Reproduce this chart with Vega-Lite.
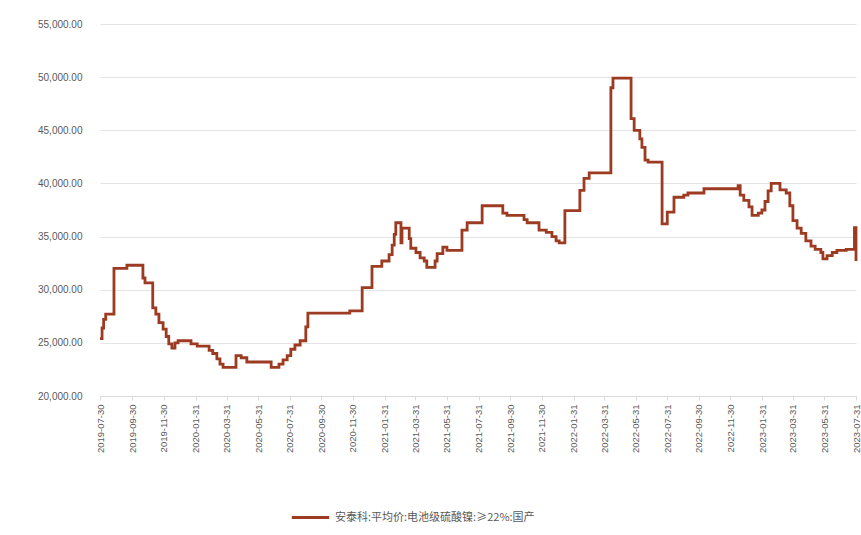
{
  "$schema": "https://vega.github.io/schema/vega-lite/v6.json",
  "autosize": {"type": "none"},
  "width": 756,
  "height": 372,
  "padding": {"left": 100, "top": 24, "right": 5, "bottom": 139},
  "background": "white",
  "config": {
    "view": {"stroke": null},
    "font": "Liberation Sans",
    "axis": {"labelColor": "#595959", "labelFont": "Liberation Sans"}
  },
  "data": {
    "values": [
      {"date": "2019-07-30", "price": 25400, "series": "安泰科:平均价:电池级硫酸镍:≥22%:国产"},
      {"date": "2019-08-03", "price": 26400, "series": "安泰科:平均价:电池级硫酸镍:≥22%:国产"},
      {"date": "2019-08-06", "price": 27200, "series": "安泰科:平均价:电池级硫酸镍:≥22%:国产"},
      {"date": "2019-08-10", "price": 27700, "series": "安泰科:平均价:电池级硫酸镍:≥22%:国产"},
      {"date": "2019-08-26", "price": 32000, "series": "安泰科:平均价:电池级硫酸镍:≥22%:国产"},
      {"date": "2019-09-20", "price": 32300, "series": "安泰科:平均价:电池级硫酸镍:≥22%:国产"},
      {"date": "2019-10-21", "price": 31100, "series": "安泰科:平均价:电池级硫酸镍:≥22%:国产"},
      {"date": "2019-10-25", "price": 30650, "series": "安泰科:平均价:电池级硫酸镍:≥22%:国产"},
      {"date": "2019-11-09", "price": 28300, "series": "安泰科:平均价:电池级硫酸镍:≥22%:国产"},
      {"date": "2019-11-15", "price": 27700, "series": "安泰科:平均价:电池级硫酸镍:≥22%:国产"},
      {"date": "2019-11-21", "price": 26900, "series": "安泰科:平均价:电池级硫酸镍:≥22%:国产"},
      {"date": "2019-11-29", "price": 26300, "series": "安泰科:平均价:电池级硫酸镍:≥22%:国产"},
      {"date": "2019-12-05", "price": 25600, "series": "安泰科:平均价:电池级硫酸镍:≥22%:国产"},
      {"date": "2019-12-10", "price": 24900, "series": "安泰科:平均价:电池级硫酸镍:≥22%:国产"},
      {"date": "2019-12-16", "price": 24500, "series": "安泰科:平均价:电池级硫酸镍:≥22%:国产"},
      {"date": "2019-12-22", "price": 25000, "series": "安泰科:平均价:电池级硫酸镍:≥22%:国产"},
      {"date": "2019-12-28", "price": 25200, "series": "安泰科:平均价:电池级硫酸镍:≥22%:国产"},
      {"date": "2020-01-22", "price": 24900, "series": "安泰科:平均价:电池级硫酸镍:≥22%:国产"},
      {"date": "2020-02-03", "price": 24700, "series": "安泰科:平均价:电池级硫酸镍:≥22%:国产"},
      {"date": "2020-02-26", "price": 24300, "series": "安泰科:平均价:电池级硫酸镍:≥22%:国产"},
      {"date": "2020-03-04", "price": 24000, "series": "安泰科:平均价:电池级硫酸镍:≥22%:国产"},
      {"date": "2020-03-12", "price": 23500, "series": "安泰科:平均价:电池级硫酸镍:≥22%:国产"},
      {"date": "2020-03-18", "price": 23000, "series": "安泰科:平均价:电池级硫酸镍:≥22%:国产"},
      {"date": "2020-03-24", "price": 22700, "series": "安泰科:平均价:电池级硫酸镍:≥22%:国产"},
      {"date": "2020-04-18", "price": 23800, "series": "安泰科:平均价:电池级硫酸镍:≥22%:国产"},
      {"date": "2020-04-28", "price": 23600, "series": "安泰科:平均价:电池级硫酸镍:≥22%:国产"},
      {"date": "2020-05-09", "price": 23200, "series": "安泰科:平均价:电池级硫酸镍:≥22%:国产"},
      {"date": "2020-06-25", "price": 22700, "series": "安泰科:平均价:电池级硫酸镍:≥22%:国产"},
      {"date": "2020-07-10", "price": 23000, "series": "安泰科:平均价:电池级硫酸镍:≥22%:国产"},
      {"date": "2020-07-18", "price": 23400, "series": "安泰科:平均价:电池级硫酸镍:≥22%:国产"},
      {"date": "2020-07-26", "price": 23800, "series": "安泰科:平均价:电池级硫酸镍:≥22%:国产"},
      {"date": "2020-08-02", "price": 24400, "series": "安泰科:平均价:电池级硫酸镍:≥22%:国产"},
      {"date": "2020-08-10", "price": 24800, "series": "安泰科:平均价:电池级硫酸镍:≥22%:国产"},
      {"date": "2020-08-20", "price": 25200, "series": "安泰科:平均价:电池级硫酸镍:≥22%:国产"},
      {"date": "2020-08-31", "price": 26500, "series": "安泰科:平均价:电池级硫酸镍:≥22%:国产"},
      {"date": "2020-09-04", "price": 27800, "series": "安泰科:平均价:电池级硫酸镍:≥22%:国产"},
      {"date": "2020-11-24", "price": 28000, "series": "安泰科:平均价:电池级硫酸镍:≥22%:国产"},
      {"date": "2020-12-18", "price": 30200, "series": "安泰科:平均价:电池级硫酸镍:≥22%:国产"},
      {"date": "2021-01-06", "price": 32200, "series": "安泰科:平均价:电池级硫酸镍:≥22%:国产"},
      {"date": "2021-01-25", "price": 32700, "series": "安泰科:平均价:电池级硫酸镍:≥22%:国产"},
      {"date": "2021-02-08", "price": 33300, "series": "安泰科:平均价:电池级硫酸镍:≥22%:国产"},
      {"date": "2021-02-14", "price": 34200, "series": "安泰科:平均价:电池级硫酸镍:≥22%:国产"},
      {"date": "2021-02-18", "price": 35200, "series": "安泰科:平均价:电池级硫酸镍:≥22%:国产"},
      {"date": "2021-02-21", "price": 36300, "series": "安泰科:平均价:电池级硫酸镍:≥22%:国产"},
      {"date": "2021-03-03", "price": 34400, "series": "安泰科:平均价:电池级硫酸镍:≥22%:国产"},
      {"date": "2021-03-05", "price": 35800, "series": "安泰科:平均价:电池级硫酸镍:≥22%:国产"},
      {"date": "2021-03-19", "price": 34800, "series": "安泰科:平均价:电池级硫酸镍:≥22%:国产"},
      {"date": "2021-03-22", "price": 33900, "series": "安泰科:平均价:电池级硫酸镍:≥22%:国产"},
      {"date": "2021-04-01", "price": 33500, "series": "安泰科:平均价:电池级硫酸镍:≥22%:国产"},
      {"date": "2021-04-09", "price": 33000, "series": "安泰科:平均价:电池级硫酸镍:≥22%:国产"},
      {"date": "2021-04-17", "price": 32700, "series": "安泰科:平均价:电池级硫酸镍:≥22%:国产"},
      {"date": "2021-04-22", "price": 32100, "series": "安泰科:平均价:电池级硫酸镍:≥22%:国产"},
      {"date": "2021-05-08", "price": 32700, "series": "安泰科:平均价:电池级硫酸镍:≥22%:国产"},
      {"date": "2021-05-12", "price": 33400, "series": "安泰科:平均价:电池级硫酸镍:≥22%:国产"},
      {"date": "2021-05-23", "price": 34000, "series": "安泰科:平均价:电池级硫酸镍:≥22%:国产"},
      {"date": "2021-05-31", "price": 33700, "series": "安泰科:平均价:电池级硫酸镍:≥22%:国产"},
      {"date": "2021-06-29", "price": 35600, "series": "安泰科:平均价:电池级硫酸镍:≥22%:国产"},
      {"date": "2021-07-09", "price": 36300, "series": "安泰科:平均价:电池级硫酸镍:≥22%:国产"},
      {"date": "2021-08-07", "price": 37900, "series": "安泰科:平均价:电池级硫酸镍:≥22%:国产"},
      {"date": "2021-09-16", "price": 37200, "series": "安泰科:平均价:电池级硫酸镍:≥22%:国产"},
      {"date": "2021-09-24", "price": 37000, "series": "安泰科:平均价:电池级硫酸镍:≥22%:国产"},
      {"date": "2021-10-27", "price": 36600, "series": "安泰科:平均价:电池级硫酸镍:≥22%:国产"},
      {"date": "2021-11-02", "price": 36300, "series": "安泰科:平均价:电池级硫酸镍:≥22%:国产"},
      {"date": "2021-11-25", "price": 35600, "series": "安泰科:平均价:电池级硫酸镍:≥22%:国产"},
      {"date": "2021-12-09", "price": 35400, "series": "安泰科:平均价:电池级硫酸镍:≥22%:国产"},
      {"date": "2021-12-20", "price": 35000, "series": "安泰科:平均价:电池级硫酸镍:≥22%:国产"},
      {"date": "2021-12-28", "price": 34600, "series": "安泰科:平均价:电池级硫酸镍:≥22%:国产"},
      {"date": "2022-01-03", "price": 34400, "series": "安泰科:平均价:电池级硫酸镍:≥22%:国产"},
      {"date": "2022-01-14", "price": 37450, "series": "安泰科:平均价:电池级硫酸镍:≥22%:国产"},
      {"date": "2022-02-12", "price": 39340, "series": "安泰科:平均价:电池级硫酸镍:≥22%:国产"},
      {"date": "2022-02-20", "price": 40470, "series": "安泰科:平均价:电池级硫酸镍:≥22%:国产"},
      {"date": "2022-03-02", "price": 41000, "series": "安泰科:平均价:电池级硫酸镍:≥22%:国产"},
      {"date": "2022-04-13", "price": 49000, "series": "安泰科:平均价:电池级硫酸镍:≥22%:国产"},
      {"date": "2022-04-17", "price": 49900, "series": "安泰科:平均价:电池级硫酸镍:≥22%:国产"},
      {"date": "2022-05-22", "price": 46100, "series": "安泰科:平均价:电池级硫酸镍:≥22%:国产"},
      {"date": "2022-05-28", "price": 45000, "series": "安泰科:平均价:电池级硫酸镍:≥22%:国产"},
      {"date": "2022-06-08", "price": 44200, "series": "安泰科:平均价:电池级硫酸镍:≥22%:国产"},
      {"date": "2022-06-12", "price": 43400, "series": "安泰科:平均价:电池级硫酸镍:≥22%:国产"},
      {"date": "2022-06-18", "price": 42200, "series": "安泰科:平均价:电池级硫酸镍:≥22%:国产"},
      {"date": "2022-06-24", "price": 42000, "series": "安泰科:平均价:电池级硫酸镍:≥22%:国产"},
      {"date": "2022-07-21", "price": 36200, "series": "安泰科:平均价:电池级硫酸镍:≥22%:国产"},
      {"date": "2022-07-31", "price": 37300, "series": "安泰科:平均价:电池级硫酸镍:≥22%:国产"},
      {"date": "2022-08-13", "price": 38700, "series": "安泰科:平均价:电池级硫酸镍:≥22%:国产"},
      {"date": "2022-09-01", "price": 38900, "series": "安泰科:平均价:电池级硫酸镍:≥22%:国产"},
      {"date": "2022-09-09", "price": 39100, "series": "安泰科:平均价:电池级硫酸镍:≥22%:国产"},
      {"date": "2022-10-10", "price": 39500, "series": "安泰科:平均价:电池级硫酸镍:≥22%:国产"},
      {"date": "2022-12-15", "price": 39800, "series": "安泰科:平均价:电池级硫酸镍:≥22%:国产"},
      {"date": "2022-12-19", "price": 38900, "series": "安泰科:平均价:电池级硫酸镍:≥22%:国产"},
      {"date": "2022-12-26", "price": 38400, "series": "安泰科:平均价:电池级硫酸镍:≥22%:国产"},
      {"date": "2023-01-05", "price": 37800, "series": "安泰科:平均价:电池级硫酸镍:≥22%:国产"},
      {"date": "2023-01-11", "price": 37000, "series": "安泰科:平均价:电池级硫酸镍:≥22%:国产"},
      {"date": "2023-01-23", "price": 37200, "series": "安泰科:平均价:电池级硫酸镍:≥22%:国产"},
      {"date": "2023-01-30", "price": 37500, "series": "安泰科:平均价:电池级硫酸镍:≥22%:国产"},
      {"date": "2023-02-05", "price": 38300, "series": "安泰科:平均价:电池级硫酸镍:≥22%:国产"},
      {"date": "2023-02-11", "price": 39300, "series": "安泰科:平均价:电池级硫酸镍:≥22%:国产"},
      {"date": "2023-02-17", "price": 40000, "series": "安泰科:平均价:电池级硫酸镍:≥22%:国产"},
      {"date": "2023-03-06", "price": 39400, "series": "安泰科:平均价:电池级硫酸镍:≥22%:国产"},
      {"date": "2023-03-18", "price": 39100, "series": "安泰科:平均价:电池级硫酸镍:≥22%:国产"},
      {"date": "2023-03-25", "price": 37900, "series": "安泰科:平均价:电池级硫酸镍:≥22%:国产"},
      {"date": "2023-03-31", "price": 36500, "series": "安泰科:平均价:电池级硫酸镍:≥22%:国产"},
      {"date": "2023-04-08", "price": 35800, "series": "安泰科:平均价:电池级硫酸镍:≥22%:国产"},
      {"date": "2023-04-16", "price": 35300, "series": "安泰科:平均价:电池级硫酸镍:≥22%:国产"},
      {"date": "2023-04-25", "price": 34600, "series": "安泰科:平均价:电池级硫酸镍:≥22%:国产"},
      {"date": "2023-05-05", "price": 34100, "series": "安泰科:平均价:电池级硫酸镍:≥22%:国产"},
      {"date": "2023-05-13", "price": 33800, "series": "安泰科:平均价:电池级硫酸镍:≥22%:国产"},
      {"date": "2023-05-24", "price": 33500, "series": "安泰科:平均价:电池级硫酸镍:≥22%:国产"},
      {"date": "2023-05-28", "price": 32900, "series": "安泰科:平均价:电池级硫酸镍:≥22%:国产"},
      {"date": "2023-06-05", "price": 33200, "series": "安泰科:平均价:电池级硫酸镍:≥22%:国产"},
      {"date": "2023-06-15", "price": 33500, "series": "安泰科:平均价:电池级硫酸镍:≥22%:国产"},
      {"date": "2023-06-24", "price": 33700, "series": "安泰科:平均价:电池级硫酸镍:≥22%:国产"},
      {"date": "2023-07-12", "price": 33800, "series": "安泰科:平均价:电池级硫酸镍:≥22%:国产"},
      {"date": "2023-07-28", "price": 35850, "series": "安泰科:平均价:电池级硫酸镍:≥22%:国产"},
      {"date": "2023-07-31", "price": 32700, "series": "安泰科:平均价:电池级硫酸镍:≥22%:国产"}
    ]
  },
  "mark": {"type": "line", "interpolate": "step-after", "strokeWidth": 2.8, "strokeJoin": "miter"},
  "encoding": {
    "x": {
      "field": "date",
      "type": "temporal",
      "scale": {"type": "utc", "domain": [{"year": 2019, "month": 7, "date": 30, "utc": true}, {"year": 2023, "month": 7, "date": 31, "utc": true}]},
      "axis": {
        "title": null,
        "values": [
          {"year": 2019, "month": 7, "date": 30, "utc": true},
          {"year": 2019, "month": 9, "date": 30, "utc": true},
          {"year": 2019, "month": 11, "date": 30, "utc": true},
          {"year": 2020, "month": 1, "date": 31, "utc": true},
          {"year": 2020, "month": 3, "date": 31, "utc": true},
          {"year": 2020, "month": 5, "date": 31, "utc": true},
          {"year": 2020, "month": 7, "date": 31, "utc": true},
          {"year": 2020, "month": 9, "date": 30, "utc": true},
          {"year": 2020, "month": 11, "date": 30, "utc": true},
          {"year": 2021, "month": 1, "date": 31, "utc": true},
          {"year": 2021, "month": 3, "date": 31, "utc": true},
          {"year": 2021, "month": 5, "date": 31, "utc": true},
          {"year": 2021, "month": 7, "date": 31, "utc": true},
          {"year": 2021, "month": 9, "date": 30, "utc": true},
          {"year": 2021, "month": 11, "date": 30, "utc": true},
          {"year": 2022, "month": 1, "date": 31, "utc": true},
          {"year": 2022, "month": 3, "date": 31, "utc": true},
          {"year": 2022, "month": 5, "date": 31, "utc": true},
          {"year": 2022, "month": 7, "date": 31, "utc": true},
          {"year": 2022, "month": 9, "date": 30, "utc": true},
          {"year": 2022, "month": 11, "date": 30, "utc": true},
          {"year": 2023, "month": 1, "date": 31, "utc": true},
          {"year": 2023, "month": 3, "date": 31, "utc": true},
          {"year": 2023, "month": 5, "date": 31, "utc": true},
          {"year": 2023, "month": 7, "date": 31, "utc": true}
        ],
        "format": "%Y-%m-%d",
        "labelAngle": -90,
        "labelFontSize": 9.5,
        "labelPadding": 4,
        "labelOverlap": false,
        "labelBound": false,
        "labelFlush": false,
        "grid": false,
        "domainColor": "#d9d9d9",
        "domainWidth": 1,
        "tickColor": "#d9d9d9",
        "tickSize": 4
      }
    },
    "y": {
      "field": "price",
      "type": "quantitative",
      "scale": {"domain": [20000, 55000], "nice": false, "zero": false},
      "axis": {
        "title": null,
        "values": [20000, 25000, 30000, 35000, 40000, 45000, 50000, 55000],
        "format": ",.2f",
        "labelFontSize": 10,
        "labelPadding": 18,
        "domain": false,
        "ticks": false,
        "gridColor": "#e3e3e3",
        "gridWidth": 1
      }
    },
    "color": {
      "field": "series",
      "type": "nominal",
      "scale": {"range": ["#9c3b22"]},
      "legend": {
        "title": null,
        "orient": "none",
        "legendX": 190,
        "legendY": 473,
        "symbolType": "stroke",
        "symbolSize": 1400,
        "symbolStrokeWidth": 3,
        "labelFontSize": 11,
        "labelColor": "#595959",
        "labelFont": "Noto Sans CJK SC",
        "labelLimit": 400
      }
    }
  }
}
